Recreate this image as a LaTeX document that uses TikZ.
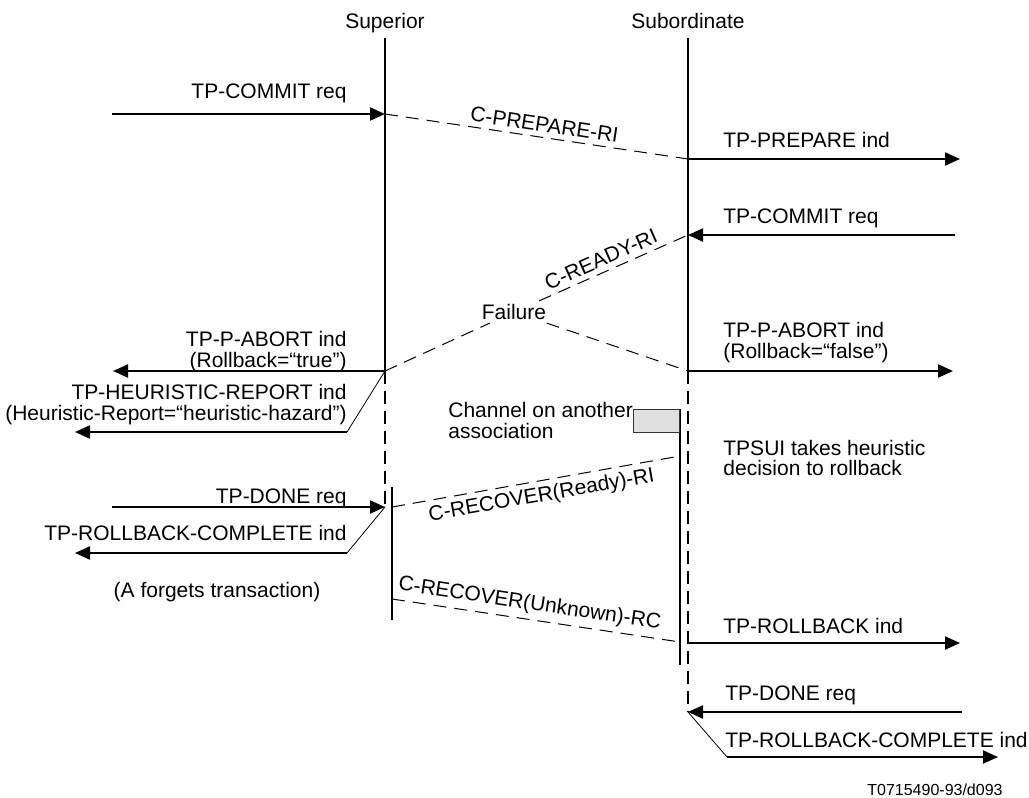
\documentclass[tikz,border=0pt]{standalone}
\usepackage{fontspec}
\setmainfont{Liberation Sans}
\usetikzlibrary{arrows.meta}
\begin{document}
\begin{tikzpicture}[x=0.5pt,y=-0.5pt,
  font=\fontsize{10.5}{10.5}\selectfont,
  life/.style={line width=1.1pt},
  lifedash/.style={line width=1.1pt, dash pattern=on 6.5pt off 3.5pt},
  arr/.style={line width=1.1pt, -{Triangle[length=7.5pt,width=6.5pt]}},
  msg/.style={line width=0.5pt, dash pattern=on 6.5pt off 4pt},
  link/.style={line width=0.4pt},
  lleft/.style={inner sep=0pt, anchor=base east},
  lright/.style={inner sep=0pt, anchor=base west},
  hdr/.style={inner sep=0pt, anchor=base},
  mlbl/.style={sloped, inner sep=2.5pt},
  flag/.style={draw=black!80, line width=0.4pt, fill=black!12, anchor=north east,
    minimum width=23pt, minimum height=11.5pt, inner sep=0pt}
]
\useasboundingbox (0,0) rectangle (1029,798);

% lifeline headers
\node[hdr] (supname) at (385,28) {Superior};
\node[hdr] (subname) at (688,28) {Subordinate};

% points on the superior lifeline
\coordinate (supT) at (385,38);
\coordinate (sup1) at (385,114);
\coordinate (supF) at (385,371);
\coordinate (sup4) at (385,507);
\coordinate (supE) at (385,510);
% points on the subordinate lifeline
\coordinate (subT) at (688,38);
\coordinate (sub1) at (688,159);
\coordinate (sub2) at (688,235);
\coordinate (subF) at (688,371);
\coordinate (sub5) at (688,643);
\coordinate (sub6) at (688,712);
% recovery lifelines
\coordinate (supRT) at (392,487);
\coordinate (supR1) at (392,507);
\coordinate (supR2) at (392,599);
\coordinate (supRE) at (392,620);
\coordinate (subRT) at (680,409);
\coordinate (subR1) at (680,456);
\coordinate (subR2) at (680,642);
\coordinate (subRE) at (680,665);

% lifelines
\draw[life] (supT) -- (supF);
\draw[lifedash] (supF) -- (supE);
\draw[life] (subT) -- (subF);
\draw[lifedash] (subF) -- (sub6);
\draw[life] (supRT) -- (supRE);
\draw[life] (subRT) -- (subRE);
\node[flag] (chanflag) at (subRT) {};

% free ends of the service primitives
\coordinate (e1) at (112,114);
\coordinate (e2) at (960,159);
\coordinate (e3) at (955,235);
\coordinate (e4) at (113,371);
\coordinate (e5) at (953,371);
\coordinate (hrA) at (347,432);
\coordinate (hrB) at (75,432);
\coordinate (e6) at (112,507);
\coordinate (rcA) at (347,553);
\coordinate (rcB) at (75,553);
\coordinate (e7) at (960,643);
\coordinate (e8) at (962,712);
\coordinate (rcC) at (727,757);
\coordinate (rcD) at (998,757);

% service primitives
\draw[arr] (e1) -- (sup1);
\draw[arr] (sub1) -- (e2);
\draw[arr] (e3) -- (sub2);
\draw[arr] (supF) -- (e4);
\draw[arr] (subF) -- (e5);
\draw[link] (supF) -- (hrA);
\draw[arr] (hrA) -- (hrB);
\draw[arr] (e6) -- (sup4);
\draw[link] (sup4) -- (rcA);
\draw[arr] (rcA) -- (rcB);
\draw[arr] (sub5) -- (e7);
\draw[arr] (e8) -- (sub6);
\draw[link] (sub6) -- (rcC);
\draw[arr] (rcC) -- (rcD);

% protocol messages
\node[inner sep=1.5pt] (fail) at (514,312) {Failure};
\draw[msg] (sup1) -- node[mlbl, above, pos=0.52] {C-PREPARE-RI} (sub1);
\draw[msg] (supF) -- (fail) -- node[mlbl, above, pos=0.45] {C-READY-RI} (sub2);
\draw[msg] (fail) -- (subF);
\draw[msg] (supR1) -- node[mlbl, below, pos=0.51] {C-RECOVER(Ready)-RI} (subR1);
\draw[msg] (supR2) -- node[mlbl, above, pos=0.47] {C-RECOVER(Unknown)-RC} (subR2);

% labels, superior side
\node[lleft] (l1) at (347,98) {TP-COMMIT req};
\node[lleft] (l2a) at (347,346) {TP-P-ABORT ind};
\node[lleft] (l2b) at (347,367) {(Rollback=“true”)};
\node[lleft] (l3a) at (347,399) {TP-HEURISTIC-REPORT ind};
\node[lleft] (l3b) at (347,420) {(Heuristic-Report=“heuristic-hazard”)};
\node[lleft] (l4) at (347,503) {TP-DONE req};
\node[lleft] (l5) at (347,540) {TP-ROLLBACK-COMPLETE ind};
\node[hdr] (l6) at (217,597) {(A forgets transaction)};
\node[lright] (chA) at (448,417) {Channel on another};
\node[lright] (chB) at (448,438) {association};

% labels, subordinate side
\node[lright] (r1) at (723,147) {TP-PREPARE ind};
\node[lright] (r2) at (723,223) {TP-COMMIT req};
\node[lright] (r3a) at (723,337) {TP-P-ABORT ind};
\node[lright] (r3b) at (723,358) {(Rollback=“false”)};
\node[lright] (r4a) at (723,455) {TPSUI takes heuristic};
\node[lright] (r4b) at (723,475) {decision to rollback};
\node[lright] (r5) at (723,633) {TP-ROLLBACK ind};
\node[lright] (r6) at (725,700) {TP-DONE req};
\node[lright] (r7) at (725,747) {TP-ROLLBACK-COMPLETE ind};

\node[lleft, font=\fontsize{8}{8}\selectfont] (ref) at (1003,795) {T0715490-93/d093};
\end{tikzpicture}
\end{document}
